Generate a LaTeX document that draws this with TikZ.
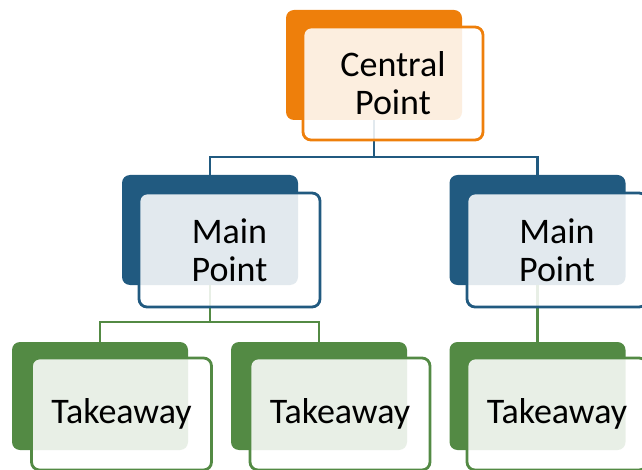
\documentclass[tikz,border=0pt]{standalone}
\usepackage{fontspec}
\setmainfont{Carlito}
\definecolor{orng}{HTML}{EE7F0B}
\definecolor{dblue}{HTML}{215A80}
\definecolor{dgreen}{HTML}{538A44}
\tikzset{
  backbox/.style={rectangle, rounded corners=8pt, inner sep=0pt, minimum width=176pt, minimum height=110pt},
  frontbox/.style={rectangle, rounded corners=8pt, inner sep=0pt, line width=2.8pt, fill=white, fill opacity=0.87, text opacity=1,
    minimum width=180pt, minimum height=113pt, align=center,
    font=\fontsize{36pt}{38pt}\selectfont},
  conn/.style={line width=2.8pt}
}
\begin{document}
\begin{tikzpicture}[x=1pt,y=-1pt]
\useasboundingbox (0,0) rectangle (642,470);
% back boxes
\node[backbox, fill=orng] (cb) at (374,65) {};
\node[backbox, fill=dblue] (mlb) at (210,230) {};
\node[backbox, fill=dblue] (mrb) at (537.5,230) {};
\node[backbox, fill=dgreen, minimum height=108pt] (tlb) at (100,396) {};
\node[backbox, fill=dgreen, minimum height=108pt] (tmb) at (319,396) {};
\node[backbox, fill=dgreen, minimum height=108pt] (trb) at (537.5,396) {};
% connectors (behind the fronts)
\coordinate (j1) at (0,157);
\coordinate (j2) at (0,322);
\draw[conn, dblue] (cb.south) |- (mlb.north |- j1) -- (mlb.north);
\draw[conn, dblue] (cb.south |- j1) -| (mrb.north);
\draw[conn, dgreen] (mlb.south) |- (tlb.north |- j2) -- (tlb.north);
\draw[conn, dgreen] (mlb.south |- j2) -| (tmb.north);
\draw[conn, dgreen] (mrb.south) -- (trb.north);
% front boxes
\node[frontbox, draw=orng] (cf) at (393,83.5) {Central\\Point};
\node[frontbox, draw=dblue, minimum width=181pt, minimum height=114pt] (mlf) at (229.5,250) {Main\\Point};
\node[frontbox, draw=dblue, minimum height=114pt] (mrf) at (557,250) {Main\\Point};
\node[frontbox, draw=dgreen, minimum height=112pt] (tlf) at (121.5,414) {Takeaway};
\node[frontbox, draw=dgreen, minimum height=112pt] (tmf) at (340,414) {Takeaway};
\node[frontbox, draw=dgreen, minimum height=112pt] (trf) at (557,414) {Takeaway};
\end{tikzpicture}
\end{document}
